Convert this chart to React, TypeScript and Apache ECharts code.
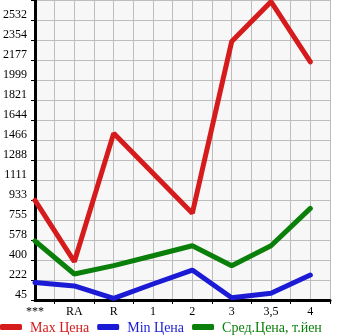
import React, { useEffect, useRef } from 'react';
import * as echarts from 'echarts';

const categories = ['***', 'RA', 'R', '1', '2', '3', '3,5', '4'];
const maxPrice = [930, 385, 1525, 1170, 815, 2340, 2695, 2160];
const minPrice = [200, 170, 60, 187, 311, 65, 104, 267];
const avgPrice = [569, 276, 350, 438, 527, 350, 527, 859];
const yTickLabels = ['45', '222', '400', '578', '755', '933', '1111', '1288', '1466', '1644', '1821', '1999', '2177', '2354', '2532'];
const seriesNames = ['Max Цена', 'Min Цена', 'Сред.Цена, т.йен'];
const seriesColors = ['#d51b1b', '#1b1bd6', '#0a7f0a'];

const Y_MIN = 45;
const Y_STEP = 177.64;
const FONT = 'Liberation Serif';

export default function App() {
  const ref = useRef<HTMLDivElement>(null);
  useEffect(() => {
    if (!ref.current) return;
    const chart = echarts.init(ref.current, null, { renderer: 'svg' });
    const toPairs = (arr: number[]) => arr.map((v, i) => [i, v]);
    const xMax = categories.length - 0.5;
    const halfTicks = categories.map((_, i) => i + 0.5);
    chart.setOption({
      animation: false,
      grid: {
        left: 30, top: 0, right: 15, bottom: 35,
        show: true, backgroundColor: '#f7f7f7', borderWidth: 0,
      },
      xAxis: [
        {
          type: 'value', position: 'bottom', min: 0, max: xMax, interval: 0.5,
          axisLine: { show: true, lineStyle: { color: '#000', width: 3 } },
          axisTick: { show: false },
          splitLine: { show: true, lineStyle: { color: '#bdbdbd', width: 1 } },
          axisLabel: {
            color: '#000', fontFamily: FONT, fontSize: 12, margin: 5,
            formatter: (v: number) => {
              const r = Math.round(v * 2) / 2;
              return Number.isInteger(r) && categories[r] !== undefined ? categories[r] : '';
            },
          },
        },
        {
          type: 'value', position: 'bottom', min: 0, max: xMax,
          axisLine: { show: false },
          axisTick: { show: true, length: 4, customValues: halfTicks, lineStyle: { color: '#000', width: 1 } },
          splitLine: { show: false },
          axisLabel: { show: false },
        },
      ],
      yAxis: {
        type: 'value', min: Y_MIN, max: Y_MIN + Y_STEP * 15, interval: Y_STEP,
        axisLine: { show: true, lineStyle: { color: '#000', width: 3 } },
        axisTick: { show: true, length: 4, lineStyle: { color: '#000', width: 1 } },
        splitLine: { show: true, lineStyle: { color: '#bdbdbd', width: 1 } },
        axisLabel: {
          color: '#000', fontFamily: FONT, fontSize: 12, margin: 8, verticalAlign: 'bottom',
          formatter: (v: number) => {
            const idx = Math.round((v - Y_MIN) / Y_STEP);
            return yTickLabels[idx] ?? '';
          },
        },
      },
      legend: {
        left: 0, top: 320, padding: 0, itemWidth: 22, itemHeight: 6, itemGap: 8,
        icon: 'roundRect',
        textStyle: { fontFamily: FONT, fontSize: 14, padding: [0, 0, 0, 3] },
        data: seriesNames.map((n, i) => ({ name: n, textStyle: { color: seriesColors[i] } })),
      },
      series: [maxPrice, minPrice, avgPrice].map((arr, i) => ({
        name: seriesNames[i],
        type: 'line',
        xAxisIndex: 0,
        data: toPairs(arr),
        symbol: 'none',
        clip: false,
        color: seriesColors[i],
        lineStyle: { width: 5, color: seriesColors[i], cap: 'round' },
      })),
    });
    return () => chart.dispose();
  }, []);
  return <div ref={ref} style={{ position: 'fixed', left: 0, top: 0, width: 345, height: 335 }} />;
}
